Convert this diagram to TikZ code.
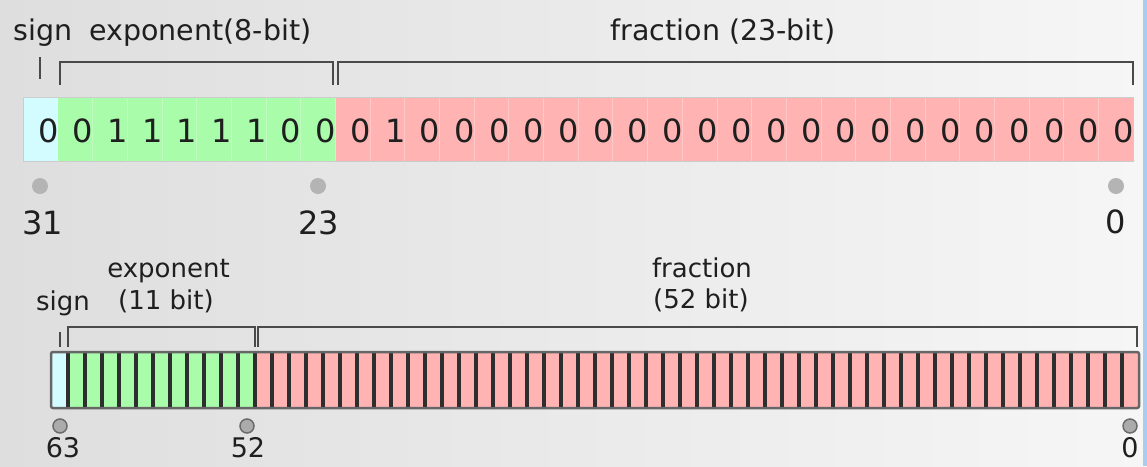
\documentclass[tikz,border=0pt]{standalone}
\usepackage{fontspec}
\setmainfont{DejaVu Sans}
\definecolor{sgncol}{HTML}{D2FCFF}
\definecolor{expcol}{HTML}{A8FCAA}
\definecolor{fraccol}{HTML}{FFB3B3}
\definecolor{bgleft}{HTML}{DEDEDE}
\definecolor{bgright}{HTML}{F6F6F6}
\definecolor{stripcol}{HTML}{A8CDEE}
\definecolor{brkcol}{HTML}{4A4A4A}
\definecolor{dotcol}{HTML}{B4B4B4}
\tikzset{
  lbl/.style={font=\fontsize{28.5}{30}\selectfont, text=black!88, inner sep=0pt},
  lblsmall/.style={font=\fontsize{26}{28}\selectfont, text=black!88, inner sep=0pt, anchor=base},
  bitdigit/.style={font=\fontsize{32}{32}\selectfont, text=black!88, inner sep=0pt, anchor=base},
  idx/.style={font=\fontsize{32}{32}\selectfont, text=black!88, inner sep=0pt, anchor=base},
  idxsmall/.style={font=\fontsize{27}{27}\selectfont, text=black!88, inner sep=0pt, anchor=base},
  brkline/.style={draw=brkcol, line width=2.2pt},
  cellsep/.style={draw=black!82, line width=3.2pt},
}
\begin{document}
\begin{tikzpicture}[x=1pt,y=-1pt]
\useasboundingbox (0,0) rectangle (1147,466);
\shade[left color=bgleft, right color=bgright] (0,0) rectangle (1147,466);
\fill[stripcol] (1142.5,0) rectangle (1147,466);

% single precision
\node[lbl, anchor=base west] (sgn32) at (13.5,40) {sign};
\node[lbl, anchor=base west] (exp32) at (89,40) {exponent(8-bit)};
\node[lbl, anchor=base west] (frac32) at (610.5,40) {fraction (23-bit)};
\draw[brkline] (40,57) -- (40,79);
\draw[brkline] (60,85) -- (60,62) -- (333,62) -- (333,85);
\draw[brkline] (338,85) -- (338,62) -- (1133,62) -- (1133,85);
\fill[sgncol] (23,97) rectangle (57.69,161);
\fill[expcol] (57.69,97) rectangle (335.5,161);
\fill[fraccol] (335.5,97) rectangle (1133,161);
\foreach \i in {1,...,31}
  \draw[white, opacity=.3] ({23+34.6875*\i},97) -- ++(0,64);
\draw[black!20] (23,97) rectangle (1133,161);
\foreach \b [count=\i from 0] in {0,0,1,1,1,1,1,0,0,0,1,0,0,0,0,0,0,0,0,0,0,0,0,0,0,0,0,0,0,0,0,0}
  \node[bitdigit] (bit\i) at ({23+34.6875*(\i+0.5)+8},142) {\b};
\fill[dotcol] (40,186) circle (8);
\fill[dotcol] (318,186) circle (8);
\fill[dotcol] (1116,186) circle (8);
\node[idx] (n31) at (42.5,234) {31};
\node[idx] (n23) at (318.5,234) {23};
\node[idx] (n0a) at (1115.5,233) {0};

% double precision
\node[lblsmall, anchor=base west] (sgn64) at (36,310) {sign};
\node[lblsmall] (exp64a) at (168.5,277) {exponent};
\node[lblsmall] (exp64b) at (166,309) {(11 bit)};
\node[lblsmall] (frac64a) at (702,277) {fraction};
\node[lblsmall] (frac64b) at (701,308) {(52 bit)};
\draw[brkline] (60,332) -- (60,347);
\draw[brkline] (68,347) -- (68,327) -- (255,327) -- (255,347);
\draw[brkline] (258,347) -- (258,327) -- (1137,327) -- (1137,347);
\fill[sgncol] (51,352) rectangle (68,408);
\fill[expcol] (68,352) rectangle (255,408);
\fill[fraccol] (255,352) rectangle (1139,408);
\foreach \i in {1,...,63}
  \draw[cellsep] ({51+17*\i},352) -- ++(0,56);
\draw[black!60, line width=2.5pt, rounded corners=2pt] (51,352) rectangle (1139,408);
\filldraw[fill=black!33, draw=black!58, line width=1.5pt] (60,426) circle (7);
\filldraw[fill=black!33, draw=black!58, line width=1.5pt] (247,426) circle (7);
\filldraw[fill=black!33, draw=black!58, line width=1.5pt] (1130,426) circle (7);
\node[idxsmall] (n63) at (63,457) {63};
\node[idxsmall] (n52) at (248,457) {52};
\node[idxsmall] (n0b) at (1130,457) {0};
\end{tikzpicture}
\end{document}
